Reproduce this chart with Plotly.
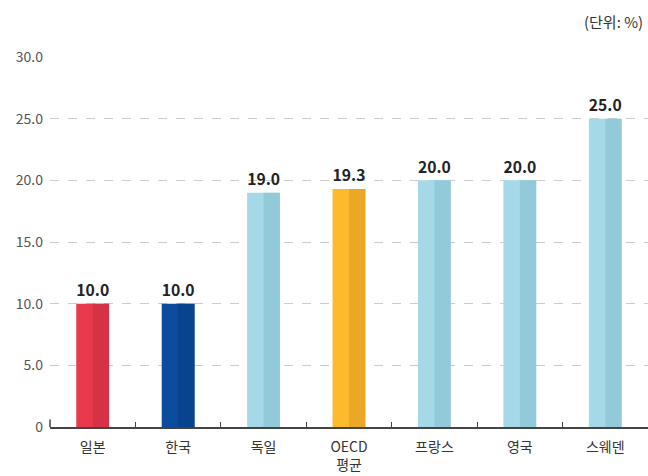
import plotly.graph_objects as go

categories = ["일본", "한국", "독일", "OECD<br>평균", "프랑스", "영국", "스웨덴"]
values = [10.0, 10.0, 19.0, 19.3, 20.0, 20.0, 25.0]
colors_light = ["#E83A4C", "#0B4C9C", "#A5D9E7", "#FDBA2C", "#A5D9E7", "#A5D9E7", "#A5D9E7"]
colors_dark = ["#D53246", "#08438D", "#93CADA", "#EBA826", "#93CADA", "#93CADA", "#93CADA"]
y_ticks = [0, 5, 10, 15, 20, 25, 30]
y_ticktext = ["0", "5.0", "10.0", "15.0", "20.0", "25.0", "30.0"]
unit_label = "(단위: %)"

font_family = "Noto Sans CJK KR, Noto Sans, sans-serif"

fig = go.Figure()
fig.add_trace(go.Bar(
    x=categories, y=values, width=0.385, marker_color=colors_light,
    marker_line_width=0,
    text=[f"{v:.1f}" for v in values], textposition="outside",
    textfont=dict(size=17, color="#222222", family=font_family, weight="bold"),
    cliponaxis=False, hoverinfo="skip",
))
fig.add_trace(go.Bar(
    x=categories, y=values, width=0.19, offset=0.0, marker_color=colors_dark,
    marker_line_width=0, hoverinfo="skip",
))

fig.update_layout(
    width=648, height=476,
    margin=dict(l=50, r=0, t=57, b=49),
    barmode="overlay",
    showlegend=False,
    plot_bgcolor="white", paper_bgcolor="white",
    font=dict(family=font_family),
    annotations=[dict(
        text=unit_label, xref="paper", yref="paper", x=1.0, y=1.0,
        xanchor="right", yanchor="middle", yshift=36, xshift=-3, showarrow=False,
        font=dict(size=15, color="#333333", family=font_family),
    )],
    shapes=[dict(
        type="line", xref="paper", yref="y", x0=0, x1=0, y0=0, y1=0.6,
        line=dict(color="#444444", width=1.5),
    )],
)
fig.update_xaxes(
    showline=True, linecolor="#444444", linewidth=1.5,
    ticks="inside", tickson="boundaries", ticklen=5, tickcolor="#444444",
    tickfont=dict(size=14, color="#333333", family=font_family),
    ticklabelstandoff=6,
    showgrid=False, automargin=False,
)
fig.update_yaxes(
    range=[0, 30], tickvals=y_ticks, ticktext=y_ticktext,
    showgrid=True, gridcolor="#CCCCCC", griddash="dash", gridwidth=1,
    zeroline=False, showline=False, ticks="",
    tickfont=dict(size=14, color="#555555", family=font_family),
    ticklabelstandoff=6, automargin=False,
)

fig.write_html(
    "out.html",
    config={"displayModeBar": False},
    post_script="document.body.style.margin='0';document.body.style.overflow='hidden';",
)
